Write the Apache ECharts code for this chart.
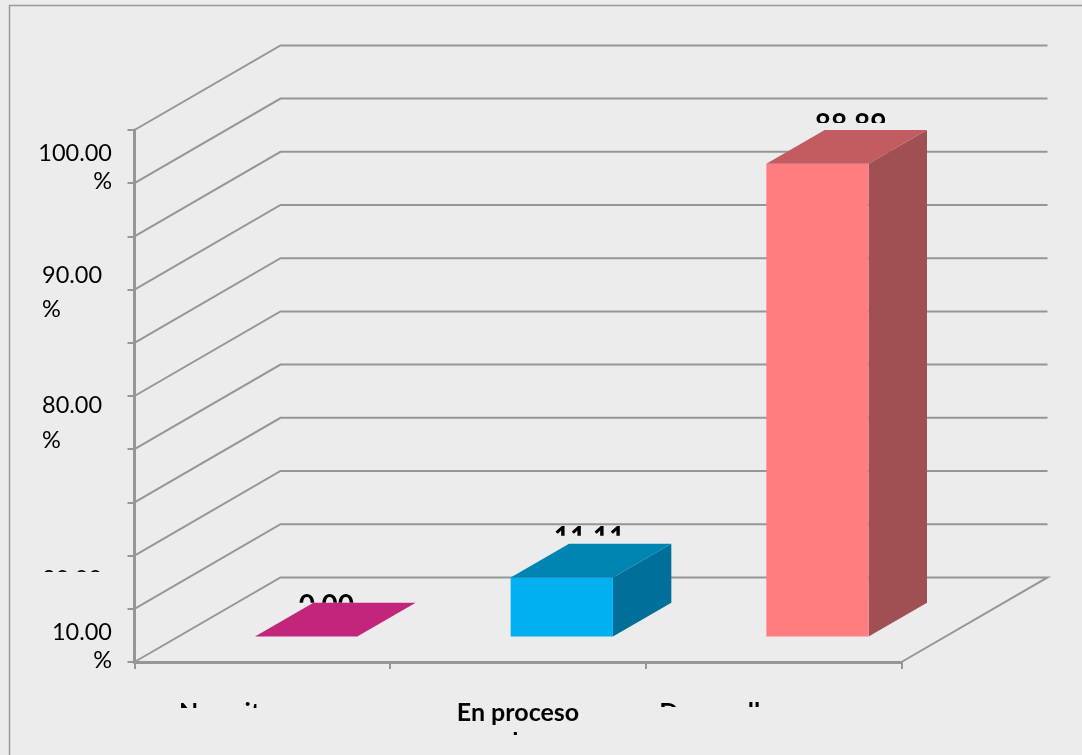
<!DOCTYPE html>
<html>
<head>
<meta charset="utf-8">
<style>html,body{margin:0;padding:0;background:#ececec}#chart{width:1082px;height:755px}</style>
<script src="https://cdn.jsdelivr.net/npm/echarts@6/dist/echarts.min.js"></script>
</head>
<body>
<div id="chart"></div>
<script>
// Survey results by level
var categories = ['No evita', 'En proceso', 'Desarrollo'];
var values = [0.00, 11.11, 88.89];
var valueLabels = ['0.00', '11.11', '88.89'];
var gridValues = [0, 10, 20, 30, 40, 50, 60, 70, 80, 90, 100];
var tickLabels = ['100.00', '90.00', '80.00', '20.00', '10.00'];

// Face colours per bar: front, top, side
var frontColors = ['#c1267a', '#00b0f0', '#ff7c80'];
var topColors = ['#c1267a', '#0084b4', '#c25c60'];
var sideColors = ['#9a1e62', '#00709b', '#a04f52'];

// Oblique projection of the floor depth, and where bars sit within it
var DEPTH_X = 146, DEPTH_Y = -84.6;
var BAR_NEAR = 0.3, BAR_FAR = 0.7, BAR_WIDTH = 0.4;
var GRID_COLOR = '#969696', FONT = 'Lato, Carlito, "Noto Sans", sans-serif';

// Text placement for the value-axis labels, the category labels and the bar labels
var tickPlace = [
  {x: 112, align: 'right', y: 141, py: 169, clip: 755},
  {x: 42, align: 'left', y: 263, py: 297, clip: 755},
  {x: 42, align: 'left', y: 393, py: 428, clip: 755},
  {x: 42, align: 'left', y: 567, py: 600, clip: 572},
  {x: 112, align: 'right', y: 620, py: 648, clip: 755}
];
var catPlace = [
  {x: 226, y: 700, clip: 708},
  {x: 518, y: 700, clip: 755},
  {x: 717, y: 700, clip: 707}
];
var labelRise = [7, 16, 15], labelClip = [0, 8, 7], labelShift = [-9, -1.5, 4];

function floorOffset(d) { return [DEPTH_X * d, DEPTH_Y * d]; }

function renderWalls(params, api) {
  var v = api.value(0);
  var band = api.size([1, 0])[0];
  var p = api.coord([0, v]);
  var x0 = p[0] - band / 2;
  var y = p[1];
  var x1 = x0 + band * categories.length;
  var style = {stroke: GRID_COLOR, lineWidth: 2, fill: null};
  var points = [[x0, y], [x0 + DEPTH_X, y + DEPTH_Y], [x1 + DEPTH_X, y + DEPTH_Y]];
  if (v === 0) points.push([x1, y]);
  return {type: 'polyline', shape: {points: points}, style: style, silent: true};
}

function renderBar(params, api) {
  var i = params.dataIndex;
  var v = api.value(1);
  var band = api.size([1, 0])[0];
  var base = api.coord([i, 0]);
  var top = api.coord([i, v]);
  var half = band * BAR_WIDTH / 2;
  var n = floorOffset(BAR_NEAR), f = floorOffset(BAR_FAR);
  var lx = base[0] - half + n[0], rx = base[0] + half + n[0];
  var by = base[1] + n[1], ty = top[1] + n[1];
  var dx = f[0] - n[0], dy = f[1] - n[1];
  var children = [];
  if (v > 0) {
    children.push({type: 'polygon', shape: {points: [[rx, ty], [rx + dx, ty + dy], [rx + dx, by + dy], [rx, by]]},
      style: {fill: sideColors[i]}});
    children.push({type: 'rect', shape: {x: lx, y: ty, width: rx - lx, height: by - ty},
      style: {fill: frontColors[i]}});
  }
  children.push({type: 'polygon', shape: {points: [[lx, ty], [rx, ty], [rx + dx, ty + dy], [lx + dx, ty + dy]]},
    style: {fill: topColors[i]}});
  return {type: 'group', children: children, silent: true};
}

function renderValueLabel(params, api) {
  var i = params.dataIndex;
  var v = api.value(1);
  var top = api.coord([i, v]);
  var n = floorOffset(BAR_NEAR), f = floorOffset(BAR_FAR);
  var cx = top[0] + (n[0] + f[0]) / 2 + labelShift[i];
  var edge = top[1] + f[1];
  return {
    type: 'text', silent: true,
    style: {x: cx, y: edge - labelRise[i] - 4, text: valueLabels[i], fill: '#000', align: 'center', verticalAlign: 'top',
      font: 'bold 28px ' + FONT},
    clipPath: {type: 'rect', shape: {x: cx - 80, y: edge - 60, width: 160, height: 60 - labelClip[i]}}
  };
}

function clippedText(text, x, y, align, clipY, font) {
  return {
    type: 'text', silent: true,
    style: {x: x, y: y, text: text, fill: '#000', align: align, verticalAlign: 'top', font: font},
    clipPath: {type: 'rect', shape: {x: x - 200, y: 0, width: 400, height: clipY}}
  };
}

function renderTickLabel(params) {
  var i = params.dataIndex, p = tickPlace[i];
  var font = '23.5px ' + FONT;
  return {type: 'group', silent: true, children: [
    clippedText(tickLabels[i], p.x, p.y, p.align, p.clip, font),
    clippedText('%', p.x, p.py, p.align, p.clip, font)
  ]};
}

function renderCategory(params) {
  var i = params.dataIndex, p = catPlace[i];
  var font = 'bold 25px ' + FONT;
  var kids = [clippedText(categories[i], p.x, p.y, 'center', p.clip, font)];
  if (i === 1) kids.push(clippedText('de', p.x, p.y + 30, 'center', 735, font));
  return {type: 'group', silent: true, children: kids};
}

var chart = echarts.init(document.getElementById('chart'), null, {renderer: 'canvas'});
chart.setOption({
  animation: false,
  backgroundColor: '#ececec',
  graphic: [{type: 'rect', silent: true, z: 0,
    shape: {x: 9.5, y: 5.5, width: 1200, height: 900},
    style: {fill: 'none', stroke: '#999999', lineWidth: 1.5}}],
  grid: {left: 134.5, top: 130, width: 767, height: 532},
  xAxis: {
    type: 'category', data: categories,
    axisLine: {lineStyle: {color: GRID_COLOR, width: 3}},
    axisTick: {show: true, alignWithLabel: false, length: 7, lineStyle: {color: GRID_COLOR, width: 2}},
    axisLabel: {show: false}
  },
  yAxis: {
    type: 'value', min: 0, max: 100, interval: 10,
    axisLine: {show: true, lineStyle: {color: GRID_COLOR, width: 3}},
    axisTick: {show: true, length: 7, lineStyle: {color: GRID_COLOR, width: 2}},
    axisLabel: {show: false},
    splitLine: {show: false}
  },
  series: [
    {type: 'custom', name: 'grid', coordinateSystem: 'cartesian2d', z: 1, clip: false,
     data: gridValues.map(function (v) { return [v]; }), encode: {y: 0}, renderItem: renderWalls},
    {type: 'custom', name: 'value labels', coordinateSystem: 'cartesian2d', z: 2, clip: false,
     data: values.map(function (v, i) { return [i, v]; }), renderItem: renderValueLabel},
    {type: 'custom', name: 'bars', coordinateSystem: 'cartesian2d', z: 3, clip: false,
     data: values.map(function (v, i) { return [i, v]; }), renderItem: renderBar},
    {type: 'custom', name: 'tick labels', coordinateSystem: 'none', z: 4,
     data: tickLabels.map(function (t, i) { return [i]; }), renderItem: renderTickLabel},
    {type: 'custom', name: 'category labels', coordinateSystem: 'none', z: 4,
     data: categories.map(function (t, i) { return [i]; }), renderItem: renderCategory}
  ]
});
</script>
</body>
</html>
